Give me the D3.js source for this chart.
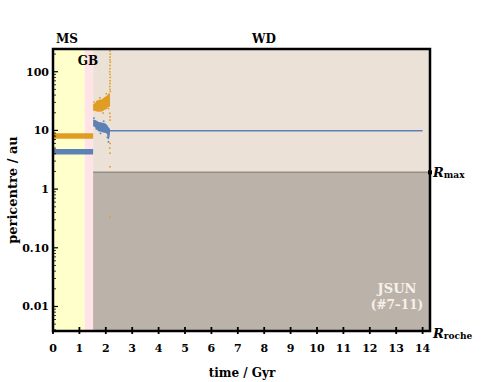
<!DOCTYPE html>
<html lang="en">
<head>
<meta charset="UTF-8">
<title>JSUN pericentre</title>
<script src="https://cdnjs.cloudflare.com/ajax/libs/d3/7.8.5/d3.min.js"></script>
<style>
  body { margin: 0; background: #fff; }
  svg text { font-family: "DejaVu Serif", serif; font-weight: bold; }
</style>
</head>
<body>
<svg id="chart" width="491" height="382"></svg>
<script>
// phase boundaries in Gyr: MS, GB, WD
const phaseEdges = [0, 1.2, 1.52, 14.28];
const phaseColors = ["#ffffcc", "#ffe3e6", "#ebe1d7"];
const rMax = 1.93, rRoche = 0.0038;
const xTicks = [0, 1, 2, 3, 4, 5, 6, 7, 8, 9, 10, 11, 12, 13, 14];
const yTicks = [100, 10, 1, 0.1, 0.01];
const yTickLabels = ["100", "10", "1", "0.10", "0.01"];

// main sequence: two planets nearly constant
const msOrange = [[0, 8.05], [1.52, 8.05]];
const msBlue = [[0, 4.35], [1.52, 4.35]];

// giant branch scatter, envelope per time step
const blobT = [1.52, 1.6, 1.71, 1.85, 1.96, 2.04, 2.09, 2.13, 2.16];
const orangeHi = [28, 29.5, 33, 34, 37, 39, 41.8, 44, 40];
const orangeLo = [21.7, 21.5, 20.8, 21, 22.5, 23.5, 24.8, 25, 26];
const blueHi = [15.4, 15.0, 14.1, 13.7, 13.2, 12.5, 11.6, 11, 10.5];
const blueLo = [11.9, 11.2, 9.8, 9.4, 9.1, 8.8, 7.0, 7.4, 9.4];

// white dwarf phase: survivor stays put
const blueWD = [[2.15, 9.9], [14, 9.9]];

// orange planet scattered out, pericentre dots near t ~ 2.16
const orangeCol = [
  [2.16, 225], [2.17, 200], [2.16, 178], [2.16, 160], [2.17, 146],
  [2.16, 128], [2.16, 113], [2.15, 100], [2.16, 90], [2.17, 80],
  [2.16, 70], [2.16, 63], [2.15, 56], [2.16, 50], [2.17, 46],
  [2.15, 19.6], [2.16, 17.1], [2.16, 15], [2.16, 6.0], [2.15, 5.0],
  [2.16, 4.1], [2.16, 2.4], [2.16, 0.33]
];
// fuzz around the giant-branch clouds
const orangeFuzz = [[1.55, 30.5], [1.66, 31], [1.78, 36], [1.9, 19.8], [2.02, 42], [2.1, 23.5]];
const blueFuzz = [[1.55, 16.2], [1.64, 10.6], [1.8, 8.9], [1.92, 14.3], [2.06, 7.6], [2.1, 6.4]];

const orange = "#e19c24", blue = "#5e81b5";
const svg = d3.select("#chart");
const L = 53, R = 430, T = 49, B = 331;

const x = d3.scaleLinear().domain([0, 14.28]).range([L, R]);
const y = d3.scaleLog().domain([0.00382, 244]).range([B, T]);

// background bands
const bg = svg.append("g");
for (let i = 0; i < 3; i++) {
  bg.append("rect")
    .attr("x", x(phaseEdges[i])).attr("y", T)
    .attr("width", x(phaseEdges[i + 1]) - x(phaseEdges[i]))
    .attr("height", B - T)
    .attr("fill", phaseColors[i]);
}
// region inside Rmax during WD phase
bg.append("rect")
  .attr("x", x(phaseEdges[2])).attr("y", y(rMax))
  .attr("width", x(phaseEdges[3]) - x(phaseEdges[2]))
  .attr("height", B - y(rMax))
  .attr("fill", "#bbb3aa");
bg.append("line")
  .attr("x1", x(phaseEdges[2])).attr("x2", R)
  .attr("y1", y(rMax)).attr("y2", y(rMax))
  .attr("stroke", "#968d85").attr("stroke-width", 1.5);

const line = d3.line().x(d => x(d[0])).y(d => y(d[1]));

// MS bands
svg.append("path").attr("d", line(msOrange))
  .attr("stroke", orange).attr("stroke-width", 5.5).attr("fill", "none");
svg.append("path").attr("d", line(msBlue))
  .attr("stroke", blue).attr("stroke-width", 5.5).attr("fill", "none");

// GB scatter envelopes
const area = (lo, hi) => d3.area()
  .x((d, i) => x(blobT[i]))
  .y0((d, i) => y(lo[i]))
  .y1((d, i) => y(hi[i]))
  .curve(d3.curveMonotoneX)(blobT);
svg.append("path").attr("d", area(orangeLo, orangeHi)).attr("fill", orange);
svg.append("path").attr("d", area(blueLo, blueHi)).attr("fill", blue);

// WD line
svg.append("path").attr("d", line(blueWD))
  .attr("stroke", blue).attr("stroke-width", 1.5).attr("fill", "none");

// scattered dots
const dots = (data, color) => svg.append("g").selectAll("rect").data(data).join("rect")
  .attr("x", d => x(d[0]) - 0.8).attr("y", d => y(d[1]) - 0.8)
  .attr("width", 1.6).attr("height", 1.6)
  .attr("fill", color);
dots(orangeCol, orange);
dots(orangeFuzz, orange);
dots(blueFuzz, blue);

// frame
svg.append("rect")
  .attr("x", L).attr("y", T).attr("width", R - L).attr("height", B - T)
  .attr("fill", "none").attr("stroke", "#000").attr("stroke-width", 2.5);

// x ticks
const gx = svg.append("g");
gx.selectAll("line").data(xTicks).join("line")
  .attr("x1", d => x(d)).attr("x2", d => x(d))
  .attr("y1", B - 4).attr("y2", B + 3)
  .attr("stroke", "#000").attr("stroke-width", 1.8);
gx.selectAll("text").data(xTicks).join("text")
  .attr("x", d => x(d)).attr("y", B + 21)
  .attr("text-anchor", "middle").attr("font-size", 11)
  .text(d => d);

// y ticks (major + log minor)
const gy = svg.append("g");
const minor = y.ticks().filter(v => !yTicks.some(t => Math.abs(t - v) / t < 1e-6));
gy.selectAll("line.minor").data(minor).join("line").attr("class", "minor")
  .attr("x1", L).attr("x2", L + 3)
  .attr("y1", d => y(d)).attr("y2", d => y(d))
  .attr("stroke", "#000").attr("stroke-width", 0.8);
gy.selectAll("line.major").data(yTicks).join("line").attr("class", "major")
  .attr("x1", L).attr("x2", L + 5)
  .attr("y1", d => y(d)).attr("y2", d => y(d))
  .attr("stroke", "#000").attr("stroke-width", 1.2);
gy.selectAll("text").data(yTicks).join("text")
  .attr("x", L - 4).attr("y", d => y(d) + 4)
  .attr("text-anchor", "end").attr("font-size", 11)
  .text((d, i) => yTickLabels[i]);

// axis titles
svg.append("text")
  .attr("transform", `translate(17,${(T + B) / 2}) rotate(-90)`)
  .attr("text-anchor", "middle").attr("font-size", 13)
  .text("pericentre / au");
svg.append("text")
  .attr("x", 242).attr("y", 377)
  .attr("text-anchor", "middle").attr("font-size", 12)
  .text("time / Gyr");

// phase labels
svg.append("text").attr("x", 67).attr("y", 43).attr("text-anchor", "middle")
  .attr("font-size", 12).text("MS");
svg.append("text").attr("x", 264).attr("y", 43).attr("text-anchor", "middle")
  .attr("font-size", 12).text("WD");
svg.append("text").attr("x", 88).attr("y", 65).attr("text-anchor", "middle")
  .attr("font-size", 12).text("GB");

// Rmax marker and labels
svg.append("rect")
  .attr("x", R - 2).attr("y", y(rMax) - 2).attr("width", 4).attr("height", 4)
  .attr("fill", "#000");
const rLabel = (val, sub) => {
  const t = svg.append("text").attr("x", 433).attr("y", y(val) + 5).attr("font-size", 13);
  t.append("tspan").attr("font-style", "italic").text("R");
  t.append("tspan").attr("font-size", 9).attr("dy", 1).text(sub);
};
rLabel(rMax, "max");
rLabel(rRoche * 0.93, "roche");

// simulation label
svg.append("text").attr("x", 397).attr("y", 293).attr("text-anchor", "middle")
  .attr("font-size", 13).attr("fill", "#f6f1ea").text("JSUN");
svg.append("text").attr("x", 397).attr("y", 309).attr("text-anchor", "middle")
  .attr("font-size", 12).attr("fill", "#f6f1ea").attr("font-weight", "normal")
  .text("(#7–11)");
</script>
</body>
</html>
